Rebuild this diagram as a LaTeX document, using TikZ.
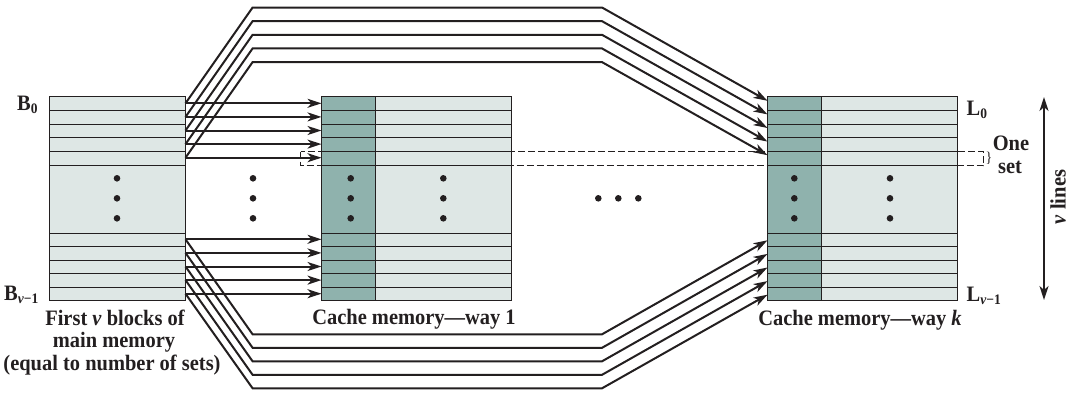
\documentclass[tikz,border=0pt]{standalone}
\usepackage{fontspec}
\setmainfont{Liberation Serif}[FakeStretch=0.93]
\usetikzlibrary{arrows.meta}
\definecolor{lightc}{RGB}{222,231,229}
\definecolor{darkc}{RGB}{143,178,173}
\definecolor{ink}{RGB}{35,31,32}
\newcommand\lowsub[1]{\raisebox{-3.5pt}{\fontsize{14.5}{14.5}\selectfont #1}}
\def\T{96.5}
\def\h{13.6}
\def\B{300.5}
\newcommand\rowlines[2]{%
  \foreach \r in {1,2,3,4,5,10,11,12,13,14}{
    \pgfmathsetmacro\yy{round(\T+\r*\h)+0.5}
    \draw[cell] (#1,\yy) -- (#2,\yy);}}
\newcommand\dotcol[1]{%
  \foreach \yy in {178.3,198.3,218.3} \fill[ink] (#1,\yy) circle (3.3pt);}
\begin{document}
\begin{tikzpicture}[x=1pt,y=-1pt,
  cell/.style={draw=ink, line width=1.1pt},
  conn/.style={draw=ink, line width=2pt, line join=miter,
    -{Stealth[length=14pt,width=9pt,inset=4pt]}},
  both/.style={draw=ink, line width=2pt,
    {Stealth[length=14pt,width=9pt,inset=4pt]}-{Stealth[length=14pt,width=9pt,inset=4pt]}},
  lbl/.style={font=\fontsize{22}{23}\selectfont\bfseries, inner sep=0pt, text=ink},
  dset/.style={draw=ink, line width=1pt, dash pattern=on 7pt off 3pt}]
\useasboundingbox (0,0) rectangle (1075,392);

% main memory block
\fill[lightc] (49.5,\T) rectangle (185.5,\B);
\rowlines{49.5}{185.5}
\draw[cell] (49.5,\T) rectangle (185.5,\B);
\dotcol{117}

% cache way 1
\fill[darkc] (321.5,\T) rectangle (375.5,\B);
\fill[lightc] (375.5,\T) rectangle (511.5,\B);
\rowlines{321.5}{511.5}
\draw[cell] (375.5,\T) -- (375.5,\B);
\draw[cell] (321.5,\T) rectangle (511.5,\B);
\dotcol{350.7}
\dotcol{443.3}

% cache way k
\fill[darkc] (767.5,\T) rectangle (821.5,\B);
\fill[lightc] (821.5,\T) rectangle (957.5,\B);
\rowlines{767.5}{957.5}
\draw[cell] (821.5,\T) -- (821.5,\B);
\draw[cell] (767.5,\T) rectangle (957.5,\B);
\dotcol{794.3}
\dotcol{890}

% ellipsis dots
\dotcol{253}
\foreach \xx in {598.3,618.3,638.3} \fill[ink] (\xx,198.3) circle (3.3pt);

% one set dashed rectangle
\draw[dset] (300.5,151.5) rectangle (983.5,165.5);

% connectors, upper rows
\foreach \i in {0,...,4}{
  \coordinate (s\i) at (185.5,{\T+(\i+0.5)*\h});
  \coordinate (w\i) at (321.5,{\T+(\i+0.5)*\h});
  \coordinate (k\i) at (767.5,{\T+(\i+0.5)*\h-2.5});
  \draw[conn] (s\i) -- (w\i);
  \draw[conn] (s\i) -- (252.6,{7.5+13.65*\i}) -- (602,{7.5+13.65*\i}) -- (k\i);
}
% connectors, lower rows
\foreach \j in {0,...,4}{
  \coordinate (t\j) at (185.5,{\T+(10+\j+0.5)*\h});
  \coordinate (u\j) at (321.5,{\T+(10+\j+0.5)*\h});
  \coordinate (q\j) at (767.5,{\T+(10+\j+0.5)*\h+1});
  \draw[conn] (t\j) -- (u\j);
  \draw[conn] (t\j) -- (252.6,{334.3+13.5*\j}) -- (602,{334.3+13.5*\j}) -- (q\j);
}

% v lines arrow
\coordinate (vt) at (1044,97);
\coordinate (vb) at (1044,300);
\draw[both] (vt) -- (vb);
\node[lbl, rotate=90] (vl) at (1058,197) {\textit{v} lines};

% labels
\node[lbl, anchor=base west] (b0) at (17,110) {B\lowsub{0}};
\node[lbl, anchor=base west] (bv) at (4,300) {B\lowsub{\textit{v}−1}};
\node[lbl, anchor=base west] (l0) at (966.5,115) {L\lowsub{0}};
\node[lbl, anchor=base west] (lv) at (966.5,301) {L\lowsub{\textit{v}−1}};
\node[lbl, anchor=base] (one) at (1011,150) {One};
\node[lbl, anchor=base] (set) at (1010,173) {set};
\node[inner sep=0pt, font=\fontsize{15}{15}\selectfont, text=ink] (br) at (989,158) {\}};

\node[lbl, anchor=base] (m1) at (115,325) {First \textit{v} blocks of};
\node[lbl, anchor=base] (m2) at (114,347.5) {main memory};
\node[lbl, anchor=base] (m3) at (112,370) {(equal to number of sets)};
\node[lbl, anchor=base] (c1) at (414,324) {Cache memory—way 1};
\node[lbl, anchor=base] (ck) at (860,325) {Cache memory—way \textit{k}};
\end{tikzpicture}
\end{document}
